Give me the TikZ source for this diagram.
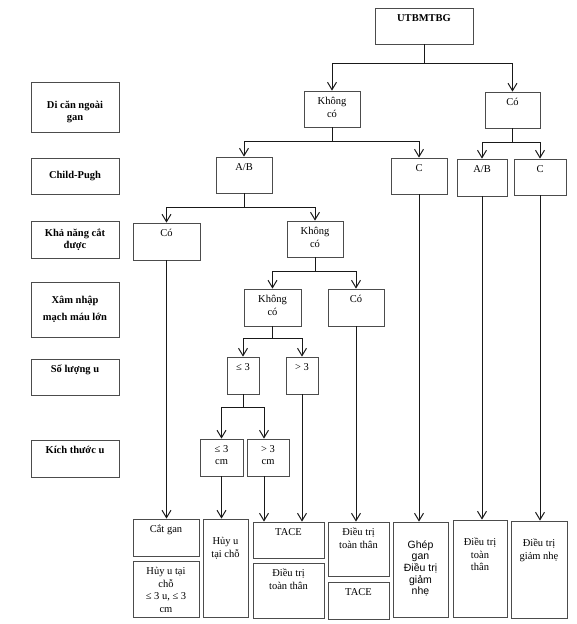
\documentclass[tikz,border=0pt]{standalone}
\usepackage{fontspec}
\setmainfont{Liberation Serif}
\newfontfamily\arialfont{Liberation Sans}
\usetikzlibrary{arrows.meta, calc}

\tikzset{
    box/.style 2 args={draw=black!70, line width=0.7pt, inner sep=0pt,
        minimum width=#1pt, minimum height=#2pt, align=center,
        font=\fontsize{10.5}{12.5}\selectfont},
    hd/.style={font=\fontsize{10.5}{12.5}\selectfont\bfseries},
    lab/.style={anchor=north, inner sep=0pt, align=center, yshift=-6.5pt,
        font=\fontsize{10.5}{12.5}\selectfont},
    toptxt/.style={label={[lab]north:#1}},
    deeptxt/.style={label={[lab, yshift=-12pt]north:#1}},
    hdtop/.style={label={[lab, font=\fontsize{10.5}{12.5}\selectfont\bfseries]north:#1}},
    conn/.style={draw=black!90, line width=0.9pt,
        -{Straight Barb[length=7.5pt, width=9pt, line width=1pt]}}
}

\begin{document}
\begin{tikzpicture}[x=1pt, y=-1pt]
    \useasboundingbox (0,0) rectangle (576,624);

    % --- Cot tieu chi ---
    \node[box={88}{50}, label={[lab, yshift=-12.5pt, font=\fontsize{10.5}{12.5}\selectfont\bfseries]north:Di căn ngoài\\gan}] (hdMeta) at (75,107) {};
    \node[box={88}{36}, hd] (hdChild) at (75,176) {Child-Pugh};
    \node[box={88}{37}, hd] (hdResect) at (75,239.5) {Khả năng cắt\\được};
    \node[box={88}{55}, hd] (hdVasc) at (75,309.5) {Xâm nhập\\[4.5pt]mạch máu lớn};
    \node[box={88}{36}, hdtop={Số lượng u}] (hdCount) at (75,377) {};
    \node[box={88}{37}, hdtop={Kích thước u}] (hdSize) at (75,458.5) {};

    % --- Cay quyet dinh ---
    \node[box={98}{36}, hdtop={UTBMTBG}] (root) at (424,26) {};

    \node[box={56}{36}, toptxt={Không\\có}] (noMeta) at (332,109) {};
    \node[box={55}{36}, toptxt={Có}] (yesMeta) at (512.5,110) {};

    \node[box={56}{36}, toptxt={A/B}] (cpAB) at (244,175) {};
    \node[box={56}{36}, toptxt={C}] (cpC) at (419,176) {};
    \node[box={50}{37}, toptxt={A/B}] (mcpAB) at (482,177.5) {};
    \node[box={52}{36}, toptxt={C}] (mcpC) at (540,177) {};

    \node[box={67}{37}, toptxt={Có}] (resYes) at (166.5,241.5) {};
    \node[box={56}{36}, toptxt={Không\\có}] (resNo) at (315,239) {};

    \node[box={57}{37}, toptxt={Không\\có}] (vascNo) at (272.5,307.5) {};
    \node[box={56}{37}, toptxt={Có}] (vascYes) at (356,307.5) {};

    \node[box={32}{37}, toptxt={≤ 3}] (cntLow) at (243,375.5) {};
    \node[box={32}{37}, toptxt={> 3}] (cntHigh) at (302,375.5) {};

    \node[box={43}{37}, toptxt={≤ 3\\cm}] (sizeLow) at (221.5,457.5) {};
    \node[box={42}{37}, toptxt={> 3\\cm}] (sizeHigh) at (268,457.5) {};

    % --- Dieu tri ---
    \node[box={66}{37}, toptxt={Cắt gan}] (trResect) at (166,537.5) {};
    \node[box={66}{56}, toptxt={Hủy u tại\\chỗ\\≤ 3 u, ≤ 3\\cm}] (trAblA) at (166,589) {};
    \node[box={45}{98}, deeptxt={Hủy u\\tại chỗ}] (trAblB) at (225.5,568) {};
    \node[box={71}{36}, toptxt={TACE}] (trTaceA) at (288.5,540) {};
    \node[box={71}{55}, toptxt={Điều trị\\toàn thân}] (trSysA) at (288.5,590.5) {};
    \node[box={61}{54}, toptxt={Điều trị\\toàn thân}] (trSysB) at (358.5,549) {};
    \node[box={61}{37}, toptxt={TACE}] (trTaceB) at (358.5,600.5) {};
    \node[box={55}{95}, label={[lab, yshift=-12pt, font=\arialfont\fontsize{10.5}{11.7}\selectfont]north:Ghép\\gan\\Điều trị\\giảm\\nhẹ}] (trTransp) at (420.5,569.5) {};
    \node[box={54}{97}, deeptxt={Điều trị\\toàn\\thân}] (trSysC) at (480,568.5) {};
    \node[box={56}{97}, deeptxt={Điều trị\\giảm nhẹ}] (trPall) at (539,569.5) {};

    % --- Nhanh ---
    \draw[conn] (root.south) -- ++(0,19) -| (noMeta);
    \draw[conn] (root.south) -- ++(0,19) -| (yesMeta);
    \draw[conn] (noMeta.south) -- ++(0,14) -| (cpAB);
    \draw[conn] (noMeta.south) -- ++(0,14) -| (cpC);
    \draw[conn] (yesMeta.south) -- ++(0,14) -| (mcpAB);
    \draw[conn] (yesMeta.south) -- ++(0,14) -| (mcpC);
    \draw[conn] (cpAB.south) -- ++(0,14) -| (resYes);
    \draw[conn] (cpAB.south) -- ++(0,14) -| (resNo);
    \draw[conn] (resNo.south) -- ++(0,14) -| (vascNo);
    \draw[conn] (resNo.south) -- ++(0,14) -| (vascYes);
    \draw[conn] (vascNo.south) -- ++(0,12) -| (cntLow);
    \draw[conn] (vascNo.south) -- ++(0,12) -| (cntHigh);

    \coordinate (hiIn) at ($(sizeHigh.north)+(-4,0)$);
    \coordinate (hiOut) at ($(sizeHigh.south)+(-4,0)$);
    \draw[conn] (cntLow.south) -- ++(0,13) -| (sizeLow);
    \draw[conn] (cntLow.south) -- ++(0,13) -| (hiIn);

    % --- Duong doc toi dieu tri ---
    \draw[conn] (resYes.south) -- (resYes.south |- trResect.north);
    \draw[conn] (sizeLow.south) -- (sizeLow.south |- trAblB.north);
    \draw[conn] (hiOut) -- (hiOut |- trTaceA.north);
    \draw[conn] (cntHigh.south) -- (cntHigh.south |- trTaceA.north);
    \draw[conn] (vascYes.south) -- (vascYes.south |- trSysB.north);
    \draw[conn] (cpC.south) -- (cpC.south |- trTransp.north);
    \draw[conn] (mcpAB.south) -- (mcpAB.south |- trSysC.north);
    \draw[conn] (mcpC.south) -- (mcpC.south |- trPall.north);
\end{tikzpicture}
\end{document}
